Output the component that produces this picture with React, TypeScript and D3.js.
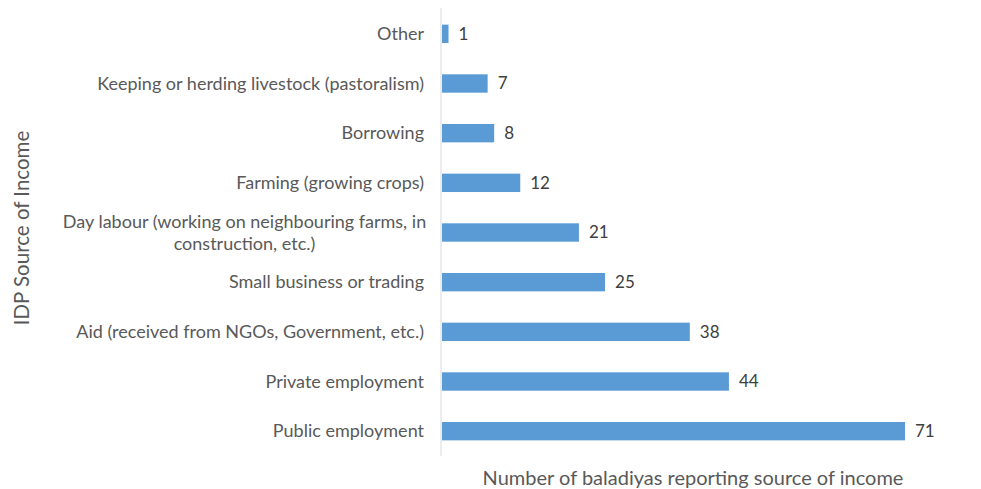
import React from "react";
import * as d3 from "d3";

const categories = [
  "Other",
  "Keeping or herding livestock (pastoralism)",
  "Borrowing",
  "Farming (growing crops)",
  "Day labour (working on neighbouring farms, in|construction, etc.)",
  "Small business or trading",
  "Aid (received from NGOs, Government, etc.)",
  "Private employment",
  "Public employment",
];
const values = [1, 7, 8, 12, 21, 25, 38, 44, 71];
const xTitle = "Number of baladiyas reporting source of income";
const yTitle = "IDP Source of Income";

const W = 981;
const H = 489;
const FONT = "Lato, 'Open Sans', sans-serif";
const TEXT = "#595959";

export default function App() {
  const x = d3.scaleLinear().domain([0, 71]).range([442, 905]);
  const y = d3.scaleBand().domain(categories).range([9, 456]).paddingInner(0.63).paddingOuter(0.315);
  const bw = y.bandwidth();
  return (
    <svg width={W} height={H} style={{ position: "absolute", left: 0, top: 0, background: "#fff" }}>
      <line x1={441} x2={441} y1={8} y2={456} stroke="#d9d9d9" strokeWidth={1} />
      {categories.map((c, i) => {
        const cy = (y(c) as number) + bw / 2;
        const lines = c.split("|");
        return (
          <g key={c}>
            <rect x={x(0)} y={y(c)} width={x(values[i]) - x(0)} height={bw} fill="#5b9bd5" />
            <text x={x(values[i]) + 10} y={cy} dy="0.35em" fontSize={17} fill="#404040" fontFamily={FONT}>
              {values[i]}
            </text>
            {lines.length === 1 ? (
              <text x={424} y={cy} dy="0.35em" textAnchor="end" fontSize={18} fill={TEXT} fontFamily={FONT}>
                {c}
              </text>
            ) : (
              <text textAnchor="middle" fontSize={18} fill={TEXT} fontFamily={FONT}>
                <tspan x={244.5} y={cy - 11} dy="0.35em">{lines[0]}</tspan>
                <tspan x={244.5} y={cy + 11} dy="0.35em">{lines[1]}</tspan>
              </text>
            )}
          </g>
        );
      })}
      <text x={693} y={478} dy="0.35em" textAnchor="middle" fontSize={20} fill={TEXT} fontFamily={FONT}>
        {xTitle}
      </text>
      <text
        transform={`translate(22, 228) rotate(-90)`}
        dy="0.35em"
        textAnchor="middle"
        fontSize={20.5}
        fill={TEXT}
        fontFamily={FONT}
      >
        {yTitle}
      </text>
    </svg>
  );
}
